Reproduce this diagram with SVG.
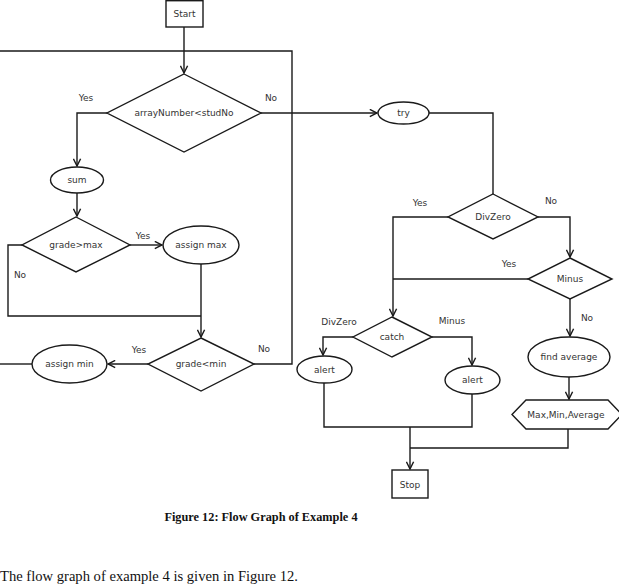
<svg xmlns="http://www.w3.org/2000/svg" width="619" height="585" viewBox="0 0 619 585">
<style>
.s{fill:#fff;stroke:#1a1a1a;stroke-width:1.4}
.c{fill:none;stroke:#1a1a1a;stroke-width:1.4}
.t{font-family:"DejaVu Sans",sans-serif;font-size:9px;fill:#333;text-anchor:middle;dominant-baseline:central}
.l{font-family:"DejaVu Sans",sans-serif;font-size:9px;fill:#333;text-anchor:middle}
</style>
<defs>
<marker id="a" viewBox="0 0 10 10" refX="9" refY="5" markerWidth="9" markerHeight="9" markerUnits="userSpaceOnUse" orient="auto">
<path d="M1,1 L9,5 L1,9" fill="none" stroke="#1a1a1a" stroke-width="1.6"/>
</marker>
</defs>
<rect width="619" height="585" fill="#fff"/>
<g id="connectors">
<path class="c" d="M184,27 V73" marker-end="url(#a)"/>
<path class="c" d="M0,51 H292 V364 H254"/>
<path class="c" d="M107,113 H77 V166" marker-end="url(#a)"/>
<path class="c" d="M77,193 V216" marker-end="url(#a)"/>
<path class="c" d="M130,245 H162" marker-end="url(#a)"/>
<path class="c" d="M22,245 H8 V316 H201"/>
<path class="c" d="M201,264 V337" marker-end="url(#a)"/>
<path class="c" d="M148,364 H108" marker-end="url(#a)"/>
<path class="c" d="M32,364 H0"/>
<path class="c" d="M261,113 H377" marker-end="url(#a)"/>
<path class="c" d="M429,113 H493 V194"/>
<path class="c" d="M538,217 H570 V257" marker-end="url(#a)"/>
<path class="c" d="M448,217 H393 V316" marker-end="url(#a)"/>
<path class="c" d="M528,279 H393"/>
<path class="c" d="M353,337 H323 V355" marker-end="url(#a)"/>
<path class="c" d="M432,337 H472 V365" marker-end="url(#a)"/>
<path class="c" d="M570,299 V336" marker-end="url(#a)"/>
<path class="c" d="M569,377 V399" marker-end="url(#a)"/>
<path class="c" d="M324,383 V427 H472 V394"/>
<path class="c" d="M568,429 V448 H410"/>
<path class="c" d="M410,427 V469" marker-end="url(#a)"/>
<text class="l" x="86" y="101">Yes</text>
<text class="l" x="271" y="101">No</text>
<text class="l" x="143" y="239">Yes</text>
<text class="l" x="20" y="278">No</text>
<text class="l" x="139" y="353">Yes</text>
<text class="l" x="264" y="352">No</text>
<text class="l" x="420" y="206">Yes</text>
<text class="l" x="551" y="204">No</text>
<text class="l" x="509" y="267">Yes</text>
<text class="l" x="587" y="321">No</text>
<text class="l" x="339" y="325">DivZero</text>
<text class="l" x="452" y="324">Minus</text>
</g>
<g id="start"><rect class="s" x="166" y="0.7" width="37" height="26.3"/><text class="t" x="184.5" y="14">Start</text></g>
<g id="arrayNumber"><polygon class="s" points="184,74 261,113 184,152 107,113"/><text class="t" x="184" y="113">arrayNumber&lt;studNo</text></g>
<g id="sum"><ellipse class="s" cx="77" cy="180" rx="26.5" ry="13"/><text class="t" x="77" y="180">sum</text></g>
<g id="gradeMax"><polygon class="s" points="76,217 130,245 76,272 22,245"/><text class="t" x="76" y="245">grade&gt;max</text></g>
<g id="assignMax"><ellipse class="s" cx="201" cy="245" rx="38" ry="19"/><text class="t" x="201" y="245">assign max</text></g>
<g id="gradeMin"><polygon class="s" points="201,338 254,364 201,391 148,364"/><text class="t" x="201" y="364">grade&lt;min</text></g>
<g id="assignMin"><ellipse class="s" cx="69.5" cy="364" rx="37.5" ry="19"/><text class="t" x="69.5" y="364">assign min</text></g>
<g id="try"><ellipse class="s" cx="403.5" cy="113" rx="25.5" ry="11"/><text class="t" x="403.5" y="113">try</text></g>
<g id="divZero"><polygon class="s" points="493,194 538,217 493,239 448,217"/><text class="t" x="493" y="217">DivZero</text></g>
<g id="minus"><polygon class="s" points="570,258 612,279 570,299 528,279"/><text class="t" x="570" y="279">Minus</text></g>
<g id="catch"><polygon class="s" points="392,317 432,337 392,357 353,337"/><text class="t" x="392" y="337">catch</text></g>
<g id="alert1"><ellipse class="s" cx="324.5" cy="369.5" rx="27.5" ry="13.5"/><text class="t" x="324.5" y="369.5">alert</text></g>
<g id="alert2"><ellipse class="s" cx="472.5" cy="380" rx="27.5" ry="14"/><text class="t" x="472.5" y="380">alert</text></g>
<g id="findAverage"><ellipse class="s" cx="569" cy="357" rx="41" ry="20"/><text class="t" x="569" y="357">find average</text></g>
<g id="output"><polygon class="s" points="512,414.5 526,400 608,400 622,414.5 608,429 526,429"/><text class="t" x="566" y="414.5">Max,Min,Average</text></g>
<g id="stop"><rect class="s" x="392" y="470" width="36" height="28"/><text class="t" x="410" y="484.5">Stop</text></g>
<text x="261" y="521" font-family="Liberation Serif,serif" font-weight="bold" font-size="12.3" text-anchor="middle" fill="#111">Figure 12: Flow Graph of Example 4</text>
<text x="0" y="581" font-family="Liberation Serif,serif" font-size="14.6" fill="#111">The flow graph of example 4 is given in Figure 12.</text>
</svg>
